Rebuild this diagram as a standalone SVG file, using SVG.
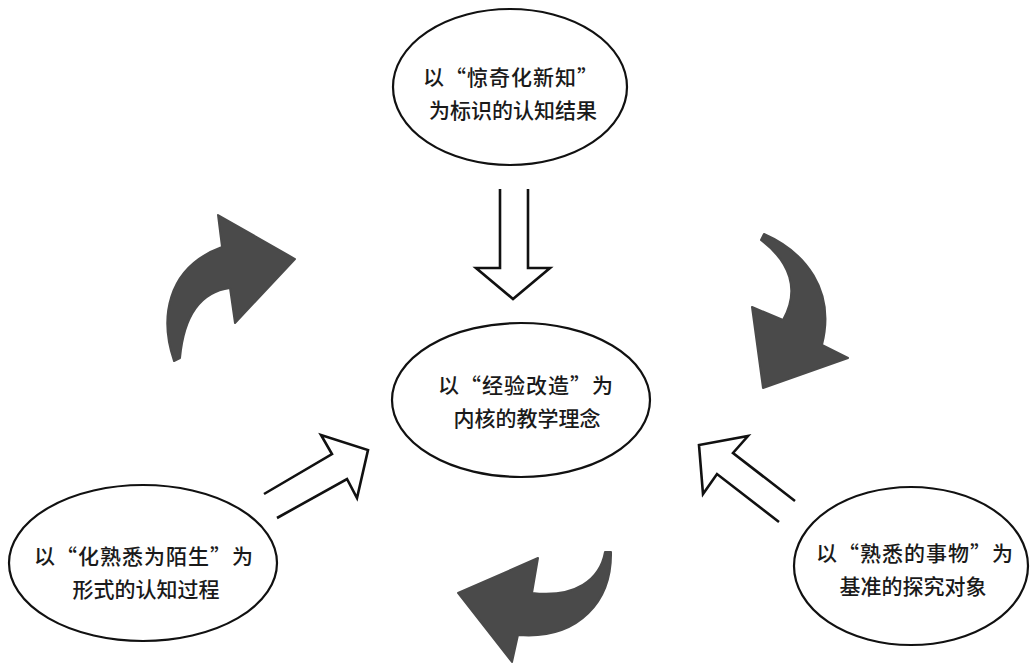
<svg xmlns="http://www.w3.org/2000/svg" width="1032" height="663" viewBox="0 0 1032 663">
<style>
.node ellipse{fill:#fff;stroke:#111;stroke-width:2.2}
.lbl{font-family:"Noto Sans CJK SC","Noto Sans",sans-serif;font-size:21px;font-weight:500;fill:#1a1a1a;text-anchor:middle}
.hollow{fill:none;stroke:#111;stroke-width:2.6;stroke-linejoin:miter}
.curved{fill:#4a4a4a;stroke:#4a4a4a;stroke-width:2;stroke-linejoin:round}
</style>
<rect width="1032" height="663" fill="#fff"/>
<g id="connectors">
<polyline class="hollow" points="500,189 500,268 476,268 513,299 550,268 528,268 528,189"/>
<polyline class="hollow" points="264,494 332,454 321,435 368,450 357,498 347,479 277,518"/>
<polyline class="hollow" points="795,501 733,453 748,436 699,445 703,494 717,474 779,522"/>
<path class="curved" d="M174,361 C160,320 165,268 222,247 L218,215 L295,259 L235,323 L230,288 C200,292 184,315 180,358 Z"/>
<path class="curved" d="M764,234 C805,252 836,290 822,345 L848,358 L763,388 L752,307 L783,320 C800,290 790,262 761,240 Z"/>
<path class="curved" d="M611,552 C612,600 580,640 518,635 L512,662 L458,593 L538,558 L532,593 C575,598 600,580 605,552 Z"/>
</g>
<g id="node-top" class="node">
<ellipse cx="510" cy="87" rx="117" ry="78"/>
<text class="lbl" x="511" y="85" letter-spacing="1">以“惊奇化新知”</text>
<text class="lbl" x="513" y="118">为标识的认知结果</text>
</g>
<g id="node-center" class="node">
<ellipse cx="521" cy="400" rx="129" ry="77"/>
<text class="lbl" x="526" y="393" letter-spacing="1">以“经验改造”为</text>
<text class="lbl" x="527" y="426">内核的教学理念</text>
</g>
<g id="node-left" class="node">
<ellipse cx="143" cy="563" rx="134" ry="78"/>
<text class="lbl" x="144" y="564" letter-spacing="1">以“化熟悉为陌生”为</text>
<text class="lbl" x="146" y="597">形式的认知过程</text>
</g>
<g id="node-right" class="node">
<ellipse cx="911" cy="566" rx="117" ry="79"/>
<text class="lbl" x="915" y="561" letter-spacing="1">以“熟悉的事物”为</text>
<text class="lbl" x="913" y="594">基准的探究对象</text>
</g>
</svg>
